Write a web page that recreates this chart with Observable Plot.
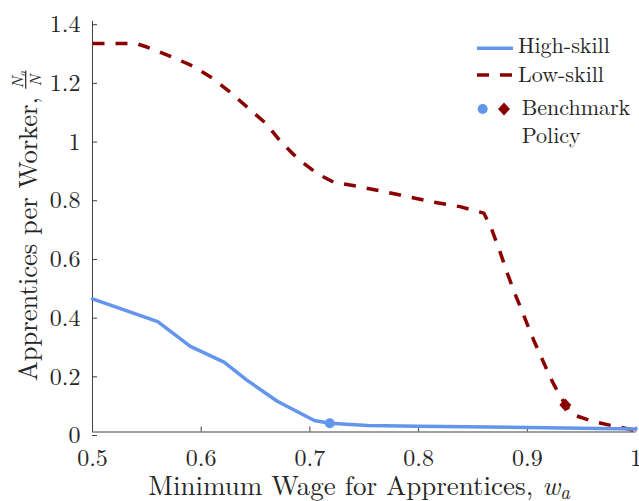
<!DOCTYPE html>
<html><head><meta charset="utf-8">
<script src="https://cdn.jsdelivr.net/npm/d3@7"></script>
<script src="https://cdn.jsdelivr.net/npm/@observablehq/plot@0.6"></script>
<style>body{margin:0;background:#fff} svg text{font-family:"Latin Modern Roman" !important;}</style>
</head><body><div id="chart"></div>
<script>
// High-skill series
const wageHigh = [0.50, 0.56, 0.59, 0.621, 0.642, 0.670, 0.704, 0.7183, 0.753, 0.80, 0.90, 1.00];
const apprHigh = [0.454, 0.376, 0.292, 0.238, 0.177, 0.105, 0.039, 0.030, 0.022, 0.020, 0.015, 0.010];
// Low-skill series
const wageLow = [0.50, 0.54, 0.55, 0.57, 0.59, 0.61, 0.626, 0.643, 0.66, 0.673, 0.689, 0.707, 0.722, 0.744, 0.783, 0.814, 0.838, 0.860, 0.867, 0.875, 0.882, 0.890, 0.906, 0.921, 0.925, 0.935, 0.943, 0.960, 0.980, 1.00];
const apprLow  = [1.324, 1.324, 1.312, 1.283, 1.251, 1.207, 1.160, 1.105, 1.050, 0.990, 0.931, 0.880, 0.851, 0.837, 0.808, 0.783, 0.768, 0.746, 0.693, 0.613, 0.537, 0.459, 0.312, 0.187, 0.158, 0.092, 0.058, 0.036, 0.020, 0.005];
// Benchmark policy points
const benchHigh = [{x: 0.7183, y: 0.030}];
const benchLow = [{x: 0.935, y: 0.092}];
// Ticks
const xTicks = [0.5, 0.6, 0.7, 0.8, 0.9, 1];
const yTicks = [0, 0.2, 0.4, 0.6, 0.8, 1, 1.2, 1.4];
// Text
const xTitle = "Minimum Wage for Apprentices, ";
const yTitle = "Apprentices per Worker,";
const legendLabels = ["High-skill", "Low-skill", "Benchmark", "Policy"];

const BLUE = "#6495ED", RED = "#8B0000", INK = "#262626", AX = "#404040";
const FONT = "\"Latin Modern Roman\"";

const high = wageHigh.map((x, i) => ({x, y: apprHigh[i]}));
const low = wageLow.map((x, i) => ({x, y: apprLow[i]}));

const diamond = {
  draw(ctx, size) {
    const s = Math.sqrt(size / Math.PI);
    const w = s * 1.15, h = s * 1.25;
    ctx.moveTo(0, -h); ctx.lineTo(w, 0); ctx.lineTo(0, h); ctx.lineTo(-w, 0); ctx.closePath();
  }
};

const plot = Plot.plot({
  width: 639, height: 501,
  marginLeft: 92, marginRight: 3.5, marginTop: 20.7, marginBottom: 69.5,
  style: {background: "#fff", color: INK},
  x: {domain: [0.5, 1]},
  y: {domain: [0, 1.4]},
  marks: [
    Plot.ruleX([0.5], {stroke: AX, strokeWidth: 1}),
    Plot.ruleY([0], {stroke: AX, strokeWidth: 1}),
    Plot.axisX({ticks: xTicks, tickSize: -5, tickPadding: 21.5, tickFormat: d => String(d), fontSize: 24, fontFamily: FONT, label: null, stroke: AX}),
    Plot.axisY({ticks: yTicks, tickSize: -5, tickPadding: 17, tickFormat: d => String(d), fontSize: 24, fontFamily: FONT, dy: 3.5, label: null, stroke: AX}),
    Plot.line(low, {x: "x", y: "y", stroke: RED, strokeWidth: 3.5, strokeDasharray: "12,11", strokeLinecap: "butt", strokeLinejoin: "miter"}),
    Plot.line(high, {x: "x", y: "y", stroke: BLUE, strokeWidth: 3.5}),
    Plot.dot(benchHigh, {x: "x", y: "y", r: 5, fill: BLUE, stroke: null}),
    Plot.dot(benchLow, {x: "x", y: "y", r: 5.2, symbol: diamond, fill: RED, stroke: null})
  ]
});
document.getElementById("chart").appendChild(plot);

const svg = d3.select(plot);

function txt(parent) {
  return parent.append("text").style("font-family", FONT).attr("fill", INK).attr("text-anchor", "start");
}

// X title
const xt = txt(svg).attr("x", 359).attr("y", 494.5).attr("text-anchor", "middle").attr("font-size", 27);
xt.append("tspan").text(xTitle);
xt.append("tspan").attr("font-style", "italic").text("w");
xt.append("tspan").attr("font-style", "italic").attr("font-size", 19).attr("dy", 4).text("a");

// Y title (rotated) with fraction
const yg = svg.append("g").attr("transform", "translate(37,381) rotate(-90)");
const yt = txt(yg).attr("x", 0).attr("y", 0).attr("font-size", 26.5).text(yTitle);
const L = yt.node().getComputedTextLength();
const fc = L + 17.5;
const num = txt(yg).attr("x", fc).attr("y", -14).attr("text-anchor", "middle")
  .attr("font-size", 16).attr("font-style", "italic");
num.append("tspan").text("N");
num.append("tspan").attr("font-size", 11).attr("dy", 2.5).text("a");
yg.append("line").attr("x1", fc - 9).attr("x2", fc + 9).attr("y1", -11.3).attr("y2", -11.3)
  .attr("stroke", INK).attr("stroke-width", 1.2);
txt(yg).attr("x", fc - 1).attr("y", 3.5).attr("text-anchor", "middle")
  .attr("font-size", 16).attr("font-style", "italic").text("N");

// Legend
const lg = svg.append("g");
lg.append("line").attr("x1", 477).attr("x2", 513).attr("y1", 48.3).attr("y2", 48.3)
  .attr("stroke", BLUE).attr("stroke-width", 3.5);
lg.append("line").attr("x1", 477).attr("x2", 513).attr("y1", 75).attr("y2", 75)
  .attr("stroke", RED).attr("stroke-width", 3.5).attr("stroke-dasharray", "12,11");
lg.append("circle").attr("cx", 482.7).attr("cy", 109).attr("r", 5).attr("fill", BLUE);
lg.append("path").attr("d", d3.symbol(diamond, Math.PI * 5.2 * 5.2)()).attr("transform", "translate(504,109)").attr("fill", RED);
const legPos = [[518, 53.3], [518, 81.7], [521.7, 115], [521.7, 143.3]];
legendLabels.forEach((t, i) => {
  txt(lg).attr("x", legPos[i][0]).attr("y", legPos[i][1]).attr("font-size", 22).text(t);
});
</script>
</body></html>
